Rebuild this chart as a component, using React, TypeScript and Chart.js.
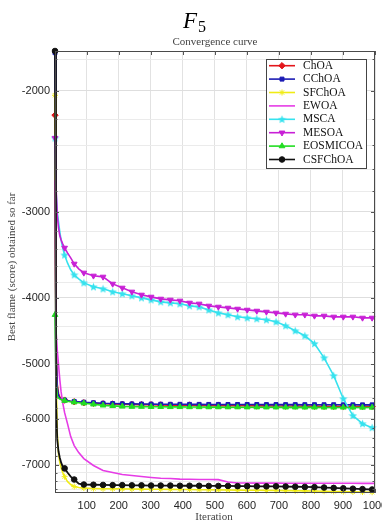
import React, { useEffect, useRef } from 'react';
import { Chart, registerables } from 'chart.js';
import { drawPoint } from 'chart.js/helpers';

Chart.register(...registerables);

// ---------- data ----------
const ITERATIONS = [1, 4, 8, 12, 16, 20, 25, 31, 40, 50, 61, 75, 91, 121, 151, 181, 211, 241, 271, 301, 331, 361, 391, 421, 451, 481, 511, 541, 571, 601, 631, 661, 691, 721, 751, 781, 811, 841, 871, 901, 931, 961, 991, 1000];

const SERIES_NAMES = ['ChOA', 'CChOA', 'SFChOA', 'EWOA', 'MSCA', 'MESOA', 'EOSMICOA', 'CSFChOA'];

const CHOA = [-2170, -4600, -5350, -5520, -5580, -5610, -5625, -5640, -5655, -5665, -5672, -5680, -5690, -5700, -5710, -5715, -5720, -5723, -5726, -5729, -5732, -5735, -5737, -5739, -5741, -5743, -5745, -5746, -5747, -5748, -5749, -5750, -5751, -5752, -5753, -5754, -5755, -5756, -5757, -5758, -5759, -5760, -5760, -5760];
const CCHOA = [-1760, -4700, -5400, -5550, -5600, -5620, -5630, -5640, -5650, -5660, -5665, -5670, -5680, -5690, -5700, -5705, -5710, -5712, -5714, -5716, -5718, -5720, -5720, -5721, -5721, -5722, -5722, -5723, -5723, -5724, -5724, -5725, -5725, -5726, -5726, -5727, -5727, -5728, -5728, -5729, -5729, -5730, -5730, -5730];
const SFCHOA = [-2030, -5000, -6300, -6750, -6950, -7070, -7190, -7290, -7410, -7485, -7535, -7560, -7575, -7585, -7590, -7592, -7595, -7598, -7600, -7602, -7605, -7608, -7610, -7612, -7615, -7618, -7620, -7622, -7625, -7628, -7630, -7633, -7636, -7640, -7643, -7646, -7650, -7655, -7660, -7665, -7670, -7675, -7680, -7682];
const EWOA = [-2700, -4455, -4764, -5009, -5266, -5482, -5688, -5882, -6102, -6373, -6568, -6724, -6860, -7022, -7141, -7190, -7238, -7262, -7287, -7311, -7330, -7336, -7350, -7355, -7358, -7360, -7362, -7420, -7447, -7448, -7449, -7450, -7450, -7451, -7451, -7452, -7452, -7453, -7453, -7454, -7454, -7455, -7455, -7455];
const MSCA = [-2343, -2789, -3002, -3104, -3210, -3296, -3386, -3467, -3561, -3644, -3706, -3756, -3807, -3858, -3884, -3923, -3949, -3976, -4003, -4030, -4057, -4071, -4084, -4112, -4126, -4168, -4210, -4237, -4266, -4281, -4294, -4309, -4338, -4396, -4470, -4546, -4667, -4894, -5196, -5613, -5940, -6104, -6186, -6206];
const MESOA = [-2343, -2742, -3032, -3167, -3252, -3296, -3341, -3386, -3443, -3501, -3572, -3632, -3681, -3718, -3731, -3820, -3871, -3923, -3963, -3990, -4017, -4030, -4043, -4071, -4084, -4112, -4126, -4140, -4154, -4168, -4182, -4196, -4210, -4224, -4237, -4237, -4252, -4252, -4266, -4266, -4266, -4281, -4281, -4281];
const EOSMICOA = [-4237, -5300, -5570, -5600, -5620, -5630, -5640, -5650, -5660, -5670, -5680, -5690, -5700, -5720, -5740, -5750, -5760, -5765, -5765, -5768, -5768, -5770, -5770, -5772, -5772, -5774, -5774, -5775, -5775, -5776, -5776, -5777, -5777, -5778, -5778, -5779, -5779, -5780, -5780, -5780, -5780, -5781, -5781, -5781];
const CSFCHOA = [-1750, -5630, -6440, -6700, -6840, -6950, -7050, -7090, -7190, -7290, -7360, -7460, -7485, -7490, -7495, -7500, -7500, -7505, -7505, -7510, -7510, -7510, -7515, -7515, -7515, -7520, -7520, -7520, -7525, -7525, -7530, -7530, -7530, -7535, -7540, -7545, -7550, -7560, -7570, -7580, -7590, -7600, -7610, -7615];

const SERIES_VALUES = [CHOA, CCHOA, SFCHOA, EWOA, MSCA, MESOA, EOSMICOA, CSFCHOA];

const X_TICKS = [100, 200, 300, 400, 500, 600, 700, 800, 900, 1000];
const Y_TICKS = [-1800, -2000, -2200, -2400, -2600, -2800, -3000, -3200, -3400, -3600, -3800, -4000, -4200, -4400, -4600, -4800, -5000, -5200, -5400, -5600, -5800, -6000, -6200, -6400, -6600, -6800, -7000, -7200, -7400, -7600];
const Y_LABELED = [-2000, -3000, -4000, -5000, -6000, -7000];
const Y_MIN = -7700;
const Y_MAX = -1750;

// ---------- styles ----------
const COLORS = ['#e3161c', '#1c1cb4', '#f0ec14', '#e63ce6', '#36e2ee', '#c820d6', '#22dd22', '#111111'];
const POINT_STYLES: any[] = ['rectRot', 'rect', 'star', null, 'pstar', 'triangle', 'triangle', 'circle'];
const POINT_ROT = [0, 0, 0, 0, 0, 180, 0, 0];
const POINT_R = [3.2, 2.8, 3, 0, 4, 3.3, 3.3, 2.8];

function makeStar(color: string) {
  const c = document.createElement('canvas');
  c.width = 9; c.height = 9;
  const g = c.getContext('2d')!;
  g.fillStyle = color;
  g.beginPath();
  for (let i = 0; i < 10; i++) {
    const r = i % 2 === 0 ? 4.4 : 1.9;
    const a = -Math.PI / 2 + (i * Math.PI) / 5;
    const px = 4.5 + r * Math.cos(a);
    const py = 4.8 + r * Math.sin(a);
    if (i === 0) g.moveTo(px, py); else g.lineTo(px, py);
  }
  g.closePath();
  g.fill();
  return c;
}

const SERIF = '"Liberation Serif", "Times New Roman", serif';
const SANS = '"Liberation Sans", Arial, sans-serif';

export default function App() {
  const ref = useRef<HTMLCanvasElement>(null);

  useEffect(() => {
    document.body.style.margin = '0';
    const star = makeStar(COLORS[4]);
    const styleOf = (i: number) => (POINT_STYLES[i] === 'pstar' ? star : POINT_STYLES[i]);

    const decor = {
      id: 'decor',
      afterDatasetsDraw(chart: any) {
        const { ctx, chartArea: a, scales } = chart;
        const xs = scales.x, ys = scales.y;
        ctx.save();
        const line = (x1: number, y1: number, x2: number, y2: number) => {
          ctx.beginPath(); ctx.moveTo(x1, y1); ctx.lineTo(x2, y2); ctx.stroke();
        };
        // box
        ctx.strokeStyle = '#4a4a4a';
        ctx.lineWidth = 1;
        ctx.strokeRect(Math.round(a.left) + 0.5, Math.round(a.top) + 0.5, Math.round(a.right - a.left) - 1, Math.round(a.bottom - a.top) - 1);
        // inward ticks
        ctx.strokeStyle = '#555';
        X_TICKS.forEach((t) => {
          const px = Math.round(xs.getPixelForValue(t)) + 0.5;
          line(px, a.bottom, px, a.bottom - 4);
          line(px, a.top, px, a.top + 4);
        });
        Y_TICKS.forEach((t) => {
          const py = Math.round(ys.getPixelForValue(-t)) + 0.5;
          const L = Y_LABELED.includes(t) ? 4 : 2.5;
          line(a.left, py, a.left + L, py);
          line(a.right, py, a.right - L, py);
        });
        // legend
        const lx = a.right - 109, ly = a.top + 8, lw = 100, lh = 109;
        ctx.fillStyle = '#fff';
        ctx.fillRect(lx, ly, lw, lh);
        ctx.strokeStyle = '#444';
        ctx.strokeRect(lx + 0.5, ly + 0.5, lw, lh);
        SERIES_NAMES.forEach((name, i) => {
          const yy = ly + 6.7 + 13.4 * i;
          ctx.strokeStyle = COLORS[i];
          ctx.fillStyle = COLORS[i];
          ctx.lineWidth = 1.6;
          line(lx + 3, yy, lx + 29, yy);
          if (POINT_STYLES[i]) {
            ctx.lineWidth = 1;
            drawPoint(ctx, { pointStyle: styleOf(i), radius: POINT_R[i], rotation: POINT_ROT[i], borderWidth: 1 } as any, lx + 16, yy);
          }
          ctx.fillStyle = '#111';
          ctx.font = `11.5px ${SERIF}`;
          ctx.textBaseline = 'middle';
          ctx.textAlign = 'left';
          ctx.fillText(name, lx + 37, yy);
        });
        ctx.restore();
      },
      afterDraw(chart: any) {
        const { ctx, chartArea: a } = chart;
        ctx.save();
        // F5 figure title
        ctx.fillStyle = '#000';
        ctx.textBaseline = 'alphabetic';
        ctx.textAlign = 'left';
        ctx.font = `italic 23px ${SERIF}`;
        ctx.fillText('F', 183, 28);
        ctx.font = `16px ${SERIF}`;
        ctx.fillText('5', 198, 32);
        // axes title
        ctx.fillStyle = '#444';
        ctx.textAlign = 'center';
        ctx.textBaseline = 'middle';
        ctx.font = `11px ${SERIF}`;
        ctx.fillText('Convergence curve', (a.left + a.right) / 2, 42.5);
        ctx.fillText('Iteration', (a.left + a.right) / 2 - 1, 517);
        ctx.translate(12, 267);
        ctx.rotate(-Math.PI / 2);
        ctx.fillText('Best flame (score) obtained so far', 0, 0);
        ctx.restore();
      },
    };

    const datasets = SERIES_NAMES.map((name, i) => ({
      label: name,
      data: ITERATIONS.map((it, k) => ({ x: it, y: -SERIES_VALUES[i][k] })),
      borderColor: COLORS[i],
      backgroundColor: COLORS[i],
      borderWidth: i === 7 ? 1.8 : 1.6,
      pointStyle: POINT_STYLES[i] ? styleOf(i) : false,
      pointRotation: POINT_ROT[i],
      pointBorderWidth: 1,
      pointBorderColor: COLORS[i],
      pointBackgroundColor: COLORS[i],
      pointRadius: (c: any) => (POINT_STYLES[i] && (ITERATIONS[c.dataIndex] - 1) % 30 === 0 ? POINT_R[i] : 0),
      pointHoverRadius: 0,
      tension: 0,
      fill: false,
      clip: 8,
      order: SERIES_NAMES.length - i,
    }));

    const chart = new Chart(ref.current!, {
      type: 'line',
      data: { datasets } as any,
      options: {
        animation: false,
        responsive: false,
        devicePixelRatio: 1,
        layout: { padding: { left: 0, right: 25, top: 51, bottom: 0 } },
        plugins: { legend: { display: false }, title: { display: false }, tooltip: { enabled: false } },
        events: [],
        scales: {
          x: {
            type: 'linear',
            min: 1,
            max: 1000,
            bounds: 'data',
            afterBuildTicks: (s: any) => { s.ticks = X_TICKS.map((v) => ({ value: v })); },
            afterFit: (s: any) => { s.height = 32; },
            ticks: {
              autoSkip: false,
              maxRotation: 0,
              padding: 6,
              color: '#262626',
              font: { family: SANS, size: 11 },
              callback: (v: any) => String(v),
            },
            grid: { color: '#e2e2e2', drawTicks: false, lineWidth: 1 },
            border: { display: false },
          },
          y: {
            type: 'logarithmic',
            reverse: true,
            min: -Y_MAX,
            max: -Y_MIN,
            bounds: 'data',
            afterBuildTicks: (s: any) => { s.ticks = Y_TICKS.map((v) => ({ value: -v })); },
            afterFit: (s: any) => { s.width = 55; },
            ticks: {
              autoSkip: false,
              padding: 5,
              color: '#262626',
              font: { family: SANS, size: 11 },
              callback: (v: any) => (Y_LABELED.includes(-Number(v)) ? String(-Number(v)) : ''),
            },
            grid: {
              color: (c: any) => (c.tick && Y_LABELED.includes(-c.tick.value) ? '#dedede' : '#ebebeb'),
              drawTicks: false,
              lineWidth: 1,
            },
            border: { display: false },
          },
        },
      } as any,
      plugins: [decor],
    });
    return () => chart.destroy();
  }, []);

  return (
    <div style={{ width: 382, height: 525, overflow: 'hidden', position: 'relative', background: '#fff' }}>
      <canvas ref={ref} width={400} height={525} style={{ display: 'block', width: 400, height: 525 }} />
    </div>
  );
}
